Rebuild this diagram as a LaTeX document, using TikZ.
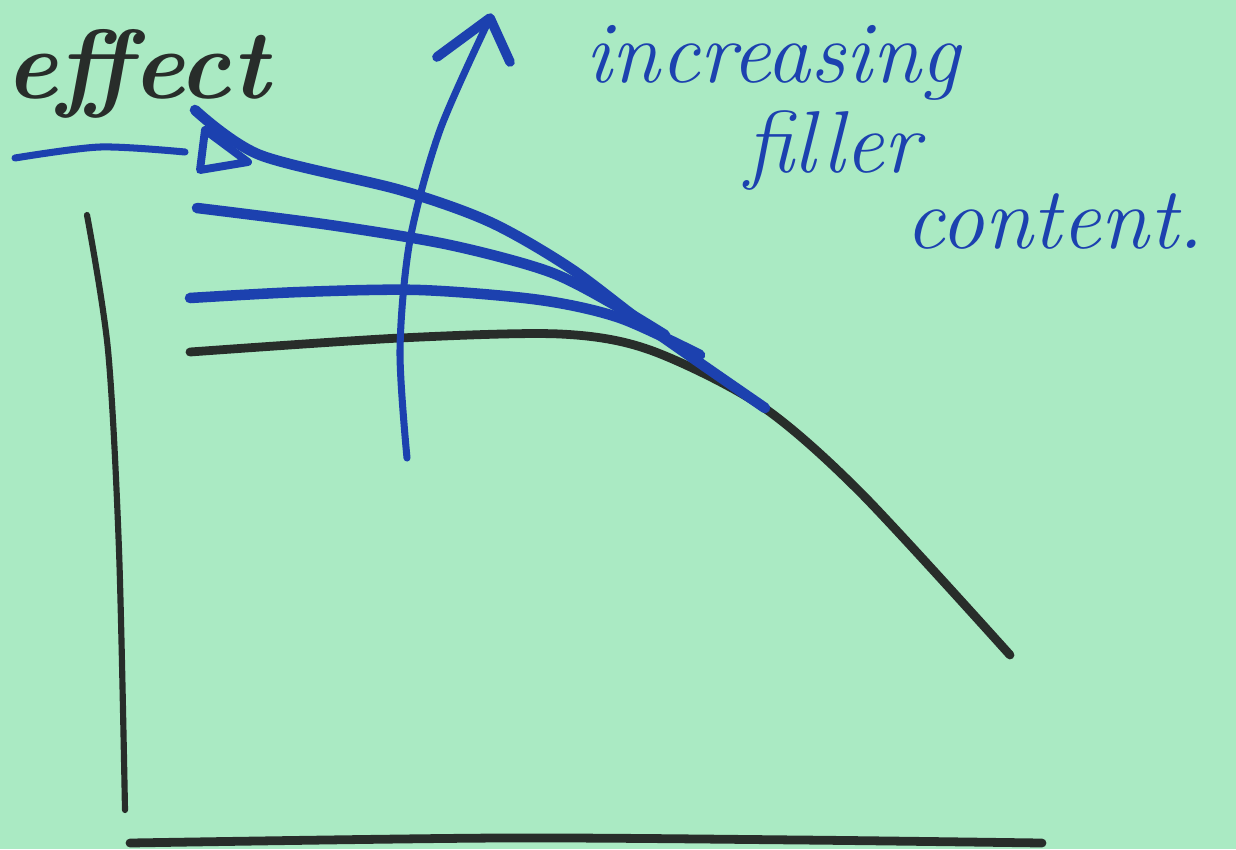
\documentclass[tikz,border=0pt]{standalone}
\definecolor{paper}{RGB}{170,234,195}
\definecolor{pen}{RGB}{28,65,175}
\definecolor{ink}{RGB}{40,45,42}
\begin{document}
\begin{tikzpicture}[x=0.02cm,y=-0.02cm,
  blueline/.style={draw=pen,line width=6pt,line cap=round,line join=round},
  blackline/.style={draw=ink,line width=4pt,line cap=round,line join=round},
  bluetext/.style={text=pen,font=\fontsize{50}{54}\selectfont\itshape,inner sep=0pt,anchor=base west},
  blacktext/.style={text=ink,font=\fontsize{56}{60}\selectfont\bfseries\itshape,inner sep=0pt,anchor=base west}]
\fill[paper] (0,0) rectangle (1236,849);
\useasboundingbox (0,0) rectangle (1236,849);
% axes
\draw[blackline,line width=3.5pt] plot[smooth] coordinates {(87,215) (108,350) (119,550) (125,810)};
\draw[blackline,line width=5pt] plot[smooth] coordinates {(130,843) (500,838) (800,840) (1042,843)};
% black curve
\draw[blackline,line width=5pt] plot[smooth] coordinates {(190,352) (400,338) (560,334) (650,350) (760,405) (860,492) (1010,655)};
% blue curves
\draw[blueline] plot[smooth] coordinates {(195,110) (260,155) (400,190) (490,222) (570,268) (650,328) (765,408)};
\draw[blueline] plot[smooth] coordinates {(197,208) (330,225) (450,245) (550,272) (620,308) (665,335)};
\draw[blueline] plot[smooth] coordinates {(190,298) (300,292) (420,290) (540,300) (620,318) (700,355)};
% pointer
\draw[blueline,line width=4pt] plot[smooth] coordinates {(15,158) (100,147) (185,152)};
\draw[blueline,line width=4.5pt] (205,130) -- (200,170) -- (248,162) -- cycle;
% arrow
\coordinate (abot) at (407,458);
\coordinate (atop) at (490,18);
\coordinate (al) at (437,57);
\coordinate (ar) at (510,62);
\draw[blueline,line width=4pt] plot[smooth] coordinates {(abot) (400,350) (410,240) (440,130) (atop)};
\draw[blueline,line width=5.5pt] (al) -- (atop) -- (ar);
% texts
\node[blacktext] (eff) at (5,98) {effect};
\node[bluetext] (l1) at (585,82) {increasing};
\node[bluetext] (l2) at (745,172) {filler};
\node[bluetext] (l3) at (905,248) {content.};
\end{tikzpicture}
\end{document}
